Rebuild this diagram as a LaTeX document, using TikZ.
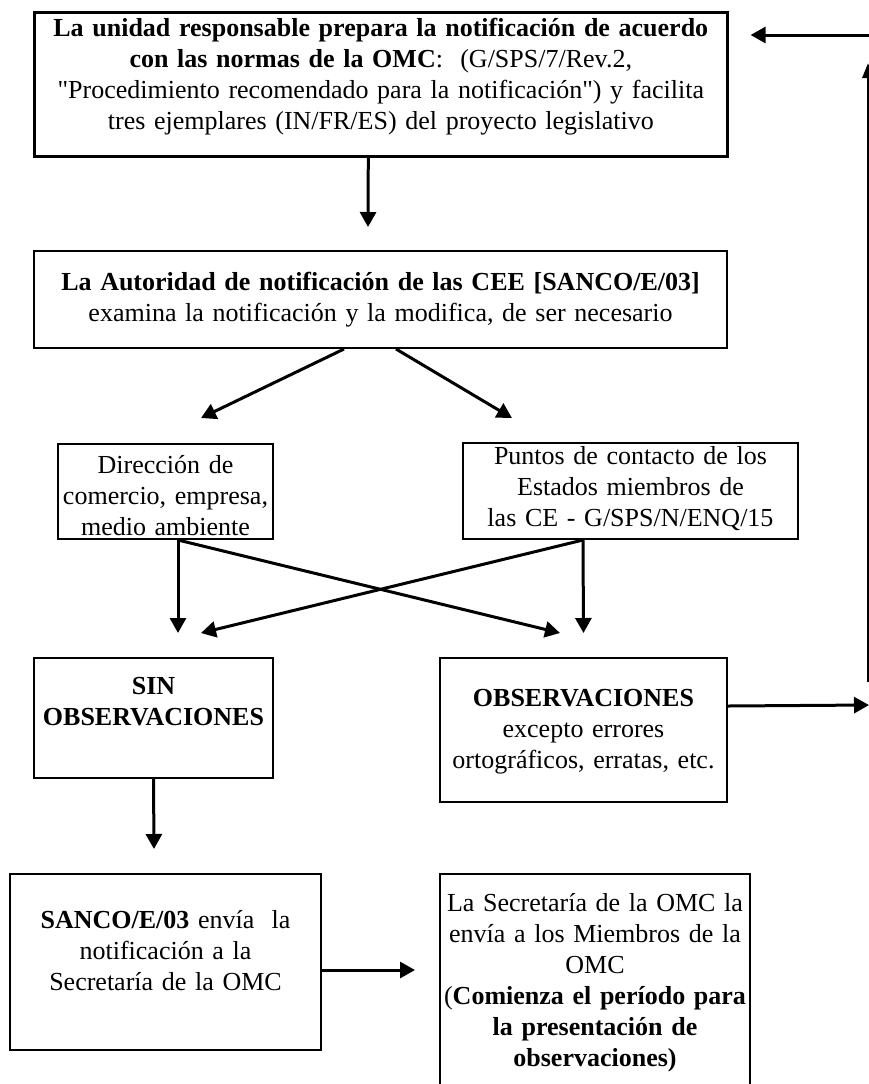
\documentclass[tikz,border=0pt]{standalone}
\usepackage{fontspec}
\setmainfont{Liberation Serif}
\usetikzlibrary{arrows.meta}
\tikzset{
  stage/.style    ={draw, line width=1pt, align=center, inner sep=0pt, anchor=north west,
                    font=\fontsize{13pt}{15.5pt}\selectfont},
  flow/.style     ={-{Triangle[length=7.5pt, width=8pt]}, line width=1.5pt},
  backflow/.style ={-{Triangle[length=7.5pt, width=5.5pt]}, line width=1.5pt}
}

\begin{document}
\fontsize{13pt}{15.5pt}\selectfont
\begin{tikzpicture}[x=0.5pt, y=-0.5pt]
  \useasboundingbox (0,0) rectangle (869,1084);
  \clip (0,0) rectangle (869,1084);

  % ====================== Preparation & check ======================
  \node[stage, line width=1.3pt, text width=346.5pt, text height=12pt, text depth=60pt] (prep) at (33,11) {%
    \textbf{La unidad responsable prepara la notificación de acuerdo}\\
    \textbf{con las normas de la OMC}:~~(G/SPS/7/Rev.2,\\
    \textquotedbl Procedimiento recomendado para la notificación\textquotedbl) y facilita\\
    tres ejemplares (IN/FR/ES) del proyecto legislativo
  };
  \node[stage, text width=346.5pt, text height=19.5pt, text depth=29pt] (auth) at (33,250) {%
    \textbf{La Autoridad de notificación de las CEE [SANCO/E/03]}\\
    examina la notificación y la modifica, de ser necesario
  };

  \draw[flow] ([xshift=-6.25pt]prep.south) -- ([xshift=-6.25pt, yshift=11.5pt]auth.north);

  % ====================== Consultation ======================
  \node[stage, text width=107.5pt, text height=14.5pt, text depth=33pt] (dir) at (57,443) {%
    Dirección de\\
    comercio, empresa,\\
    medio ambiente
  };
  \node[stage, text width=167.5pt, text height=10.5pt, text depth=37.5pt] (contact) at (462,442) {%
    Puntos de contacto de los\\
    Estados miembros de\\
    las CE - G/SPS/N/ENQ/15
  };

  \draw[flow] ([xshift=-18.25pt]auth.south) -- ([xshift=17.75pt, yshift=12.5pt]dir.north);
  \draw[flow] ([xshift=7.75pt]auth.south)   -- ([xshift=-59.25pt, yshift=12pt]contact.north);

  % ====================== Outcome ======================
  \node[stage, text width=119.5pt, text height=18pt, text depth=42pt] (noobs) at (33,657) {%
    \textbf{SIN}\\
    \textbf{OBSERVACIONES}
  };
  \node[stage, text width=143.5pt, text height=24pt, text depth=48pt] (obs) at (439,657) {%
    \textbf{OBSERVACIONES}\\
    excepto errores\\
    ortográficos, erratas, etc.
  };

  \draw[flow] ([xshift=6.25pt]dir.south)       -- ([xshift=12.25pt, yshift=12pt]noobs.north);
  \draw[flow] ([xshift=6.25pt]dir.south)       -- ([xshift=-11.75pt, yshift=12pt]obs.north);
  \draw[flow] ([xshift=-23.75pt]contact.south) -- ([yshift=12pt]obs.north);
  \draw[flow] ([xshift=-23.75pt]contact.south) -- ([xshift=23.75pt, yshift=12pt]noobs.north);

  % ====================== Sending ======================
  \node[stage, text width=155.5pt, text height=27pt, text depth=61pt] (send) at (9,873) {%
    \textbf{SANCO/E/03} envía~~la\\
    notificación a la\\
    Secretaría de la OMC
  };
  \node[stage, text width=155pt, text height=18.5pt, text depth=100pt] (wto) at (439,873) {%
    La Secretaría de la OMC la\\
    envía a los Miembros de la\\
    OMC\\
    (\textbf{Comienza el período para}\\
    \textbf{la presentación de}\\
    \textbf{observaciones)}
  };

  \draw[flow] (noobs.south) -- ([xshift=-5.75pt, yshift=12pt]send.north);
  \draw[flow, shorten >=12pt] ([yshift=-4pt]send.east) -- ([yshift=-4pt]send.east -| wto.west);

  % ====================== Return loop (cut at page edge) ======================
  \coordinate (edgeObs) at (869,705);
  \coordinate (loopBot) at (868,682);
  \coordinate (loopTop) at (868,63);
  \coordinate (edgeTop) at (869,35);

  \draw[flow]     ([yshift=12pt]obs.east) -- (edgeObs);
  \draw[backflow] (loopBot) -- (loopTop);
  \draw[flow, shorten >=11pt] (edgeTop) -- (edgeTop -| prep.east);

\end{tikzpicture}
\end{document}
